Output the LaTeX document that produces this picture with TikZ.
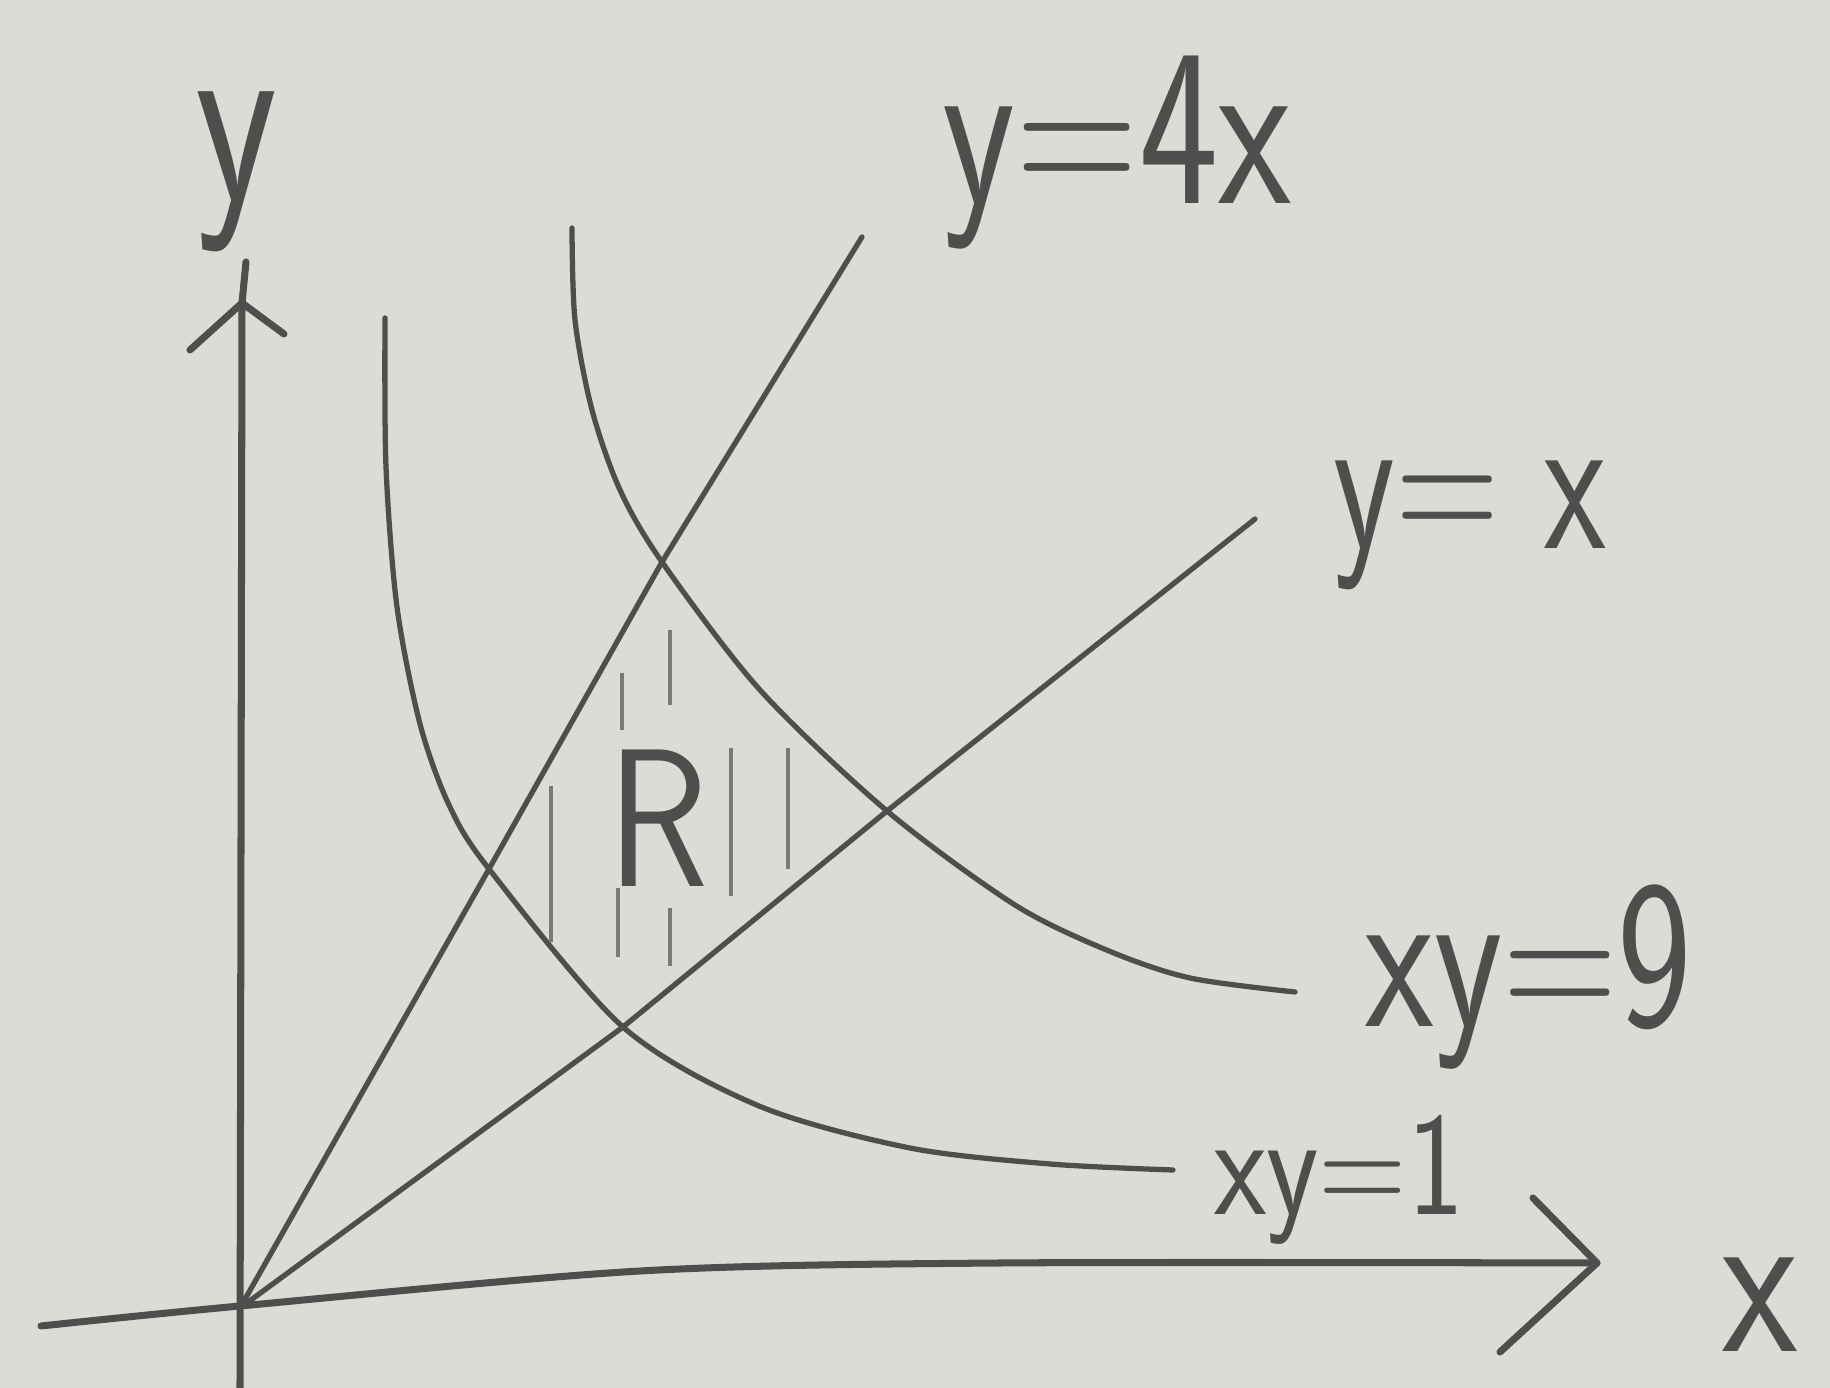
\documentclass[tikz,border=0pt]{standalone}
\usepackage{fontspec}
\usepackage{graphicx}
\definecolor{paper}{RGB}{221,219,215}
\definecolor{pencil}{RGB}{80,78,76}
\newcommand{\squash}[2]{\scalebox{#1}[1]{#2}}
\tikzset{
  axis/.style={line width=2pt, draw=pencil, line cap=round, line join=round},
  curve/.style={line width=1.5pt, draw=pencil, line cap=round},
  hatch/.style={line width=1.4pt, draw=pencil!75},
  lbl/.style={inner sep=0pt, anchor=base, text=pencil},
}
\begin{document}
\begin{tikzpicture}[x=0.1mm, y=-0.1mm]
                \fill[paper] (0,0) rectangle (1830,1388);
                \useasboundingbox (0,0) rectangle (1830,1388);
                % axes
                \coordinate (O) at (240,1308);
                \coordinate (xl) at (41,1326);
                \coordinate (xt) at (1597,1263);
                \coordinate (yb) at (240,1388);
                \coordinate (yt) at (242,303);
                \draw[axis] plot[smooth] coordinates {(xl) (240,1306) (640,1271) (1000,1263) (xt)};
                \draw[axis] (1533,1198) -- (xt) -- (1500,1352);
                \draw[axis] (yb) -- (yt) -- (246,262);
                \draw[axis] (190,350) -- (yt) -- (284,334);
                % lines y=4x and y=x
                \coordinate (A) at (662,562);
                \coordinate (B) at (489,869);
                \coordinate (C) at (887,811);
                \coordinate (D) at (623,1027);
                \coordinate (P) at (862,237);
                \coordinate (Q) at (1255,519);
                \draw[curve] (O) -- (B) -- (A) -- (P);
                \draw[curve] (O) -- (D) -- (C) -- (Q);
                % hyperbolas
                \draw[curve] plot[smooth] coordinates {(572,228) (575,320) (592,410) (620,490) (A) (760,690) (C) (1015,905) (1109,951) (1190,978) (1295,992)};
                \draw[curve] plot[smooth] coordinates {(385,318) (386,467) (397,607) (420,724) (449,805) (B) (D) (759,1106) (910,1148) (1050,1164) (1173,1170)};
                % region R
                \foreach \x/\ya/\yz in {551/786/942, 622/673/730, 670/630/705, 618/888/957, 670/908/966, 731/748/896, 788/748/869}
                    \draw[hatch] (\x,\ya) -- (\x,\yz);
                \node[lbl, font=\sffamily\fontsize{56}{56}\selectfont] (rlab) at (658,887) {\squash{0.85}{R}};
                % labels
                \node[lbl, font=\sffamily\fontsize{72}{72}\selectfont] (ylab) at (236,201) {\squash{0.75}{y}};
                \node[lbl, font=\sffamily\fontsize{62}{62}\selectfont] (xlab) at (1760,1352) {\squash{0.8}{x}};
                \node[lbl, font=\sffamily\fontsize{64}{64}\selectfont] (lab4x) at (1117,204) {\squash{0.75}{y=4x}};
                \node[lbl, font=\sffamily\fontsize{58}{58}\selectfont] (labx) at (1470,549) {\squash{0.7}{y= x}};
                \node[lbl, font=\sffamily\fontsize{60}{60}\selectfont] (lab9) at (1529,1027) {\squash{0.75}{xy=9}};
                \node[lbl, font=\sffamily\fontsize{42}{42}\selectfont] (lab1) at (1339,1215) {\squash{0.82}{xy=1}};
            \end{tikzpicture}
\end{document}
